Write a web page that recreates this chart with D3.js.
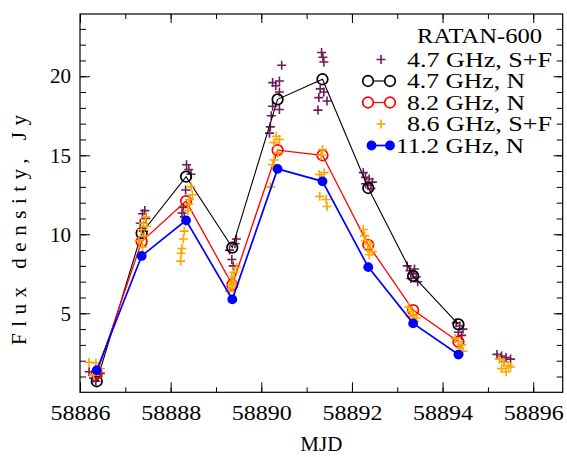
<!DOCTYPE html>
<html>
<head>
<meta charset="utf-8">
<script src="https://cdn.jsdelivr.net/npm/d3@7"></script>
<style>
  body { margin: 0; background: #fff; }
</style>
</head>
<body>
<script>
// N-mode observations (one per day)
const mjdN = [58886.37, 58887.36, 58888.34, 58889.36, 58890.36, 58891.35, 58892.36, 58893.35, 58894.35];
const flux47N = [0.7, 10.07, 13.65, 9.16, 18.54, 19.81, 12.93, 7.37, 4.3];
const flux82N = [1.2, 9.54, 12.1, 6.8, 15.32, 15.0, 9.33, 5.2, 3.2];
const flux112N = [1.4, 8.63, 10.88, 5.88, 14.14, 13.35, 7.92, 4.36, 2.39];

// S+F observations, [mjd, flux]
const sf47 = [
  [58886.2, 1.3], [58886.3, 0.9], [58886.4, 1.0], [58886.45, 1.2], [58886.35, 0.7],
  [58887.43, 11.5], [58887.38, 11.3], [58887.45, 11.0], [58887.33, 10.7], [58887.4, 10.2],
  [58888.35, 14.4], [58888.4, 14.1], [58888.45, 13.8], [58888.33, 12.8], [58888.28, 11.7], [58888.25, 11.35], [58888.3, 11.1],
  [58889.45, 9.7], [58889.42, 9.4], [58889.35, 8.4], [58889.38, 8.0], [58889.3, 9.0],
  [58890.45, 20.7], [58890.25, 19.6], [58890.4, 19.7], [58890.32, 19.4], [58890.4, 19.0], [58890.25, 18.1],
  [58890.4, 17.9], [58890.22, 17.5], [58890.2, 16.8], [58890.18, 16.4],
  [58891.33, 21.5], [58891.36, 21.2], [58891.38, 20.9], [58891.3, 19.2], [58891.38, 19.0], [58891.27, 18.65],
  [58891.45, 18.43], [58891.25, 17.86],
  [58892.25, 13.9], [58892.3, 13.6], [58892.38, 13.5], [58892.45, 13.3], [58892.35, 13.1], [58892.42, 12.9], [58892.3, 13.2],
  [58893.22, 8.0], [58893.28, 7.7], [58893.35, 7.5], [58893.42, 7.3], [58893.3, 7.2], [58893.45, 7.0], [58893.38, 7.8],
  [58894.3, 4.4], [58894.38, 4.2], [58894.45, 4.0], [58894.35, 3.8], [58894.42, 3.6],
  [58895.2, 2.4], [58895.3, 2.3], [58895.4, 2.2], [58895.5, 2.1], [58895.35, 1.9]
];
const sf86 = [
  [58886.2, 1.9], [58886.35, 1.85], [58886.4, 1.3], [58886.3, 1.1], [58886.45, 1.5],
  [58887.45, 11.1], [58887.4, 10.7], [58887.35, 10.3], [58887.42, 9.9], [58887.3, 9.6], [58887.38, 9.2], [58887.47, 10.5],
  [58888.45, 13.0], [58888.42, 12.2], [58888.4, 11.9], [58888.38, 11.5], [58888.34, 10.8], [58888.3, 10.2],
  [58888.28, 9.7], [58888.25, 9.1], [58888.23, 8.8], [58888.22, 8.3], [58888.48, 12.5],
  [58889.45, 7.9], [58889.4, 7.6], [58889.35, 7.3], [58889.38, 7.0], [58889.32, 6.8], [58889.36, 6.6], [58889.3, 6.4], [58889.42, 6.9],
  [58890.33, 16.2], [58890.4, 16.0], [58890.28, 15.8], [58890.37, 15.15], [58890.28, 14.7], [58890.25, 14.4], [58890.33, 14.1], [58890.2, 13.0],
  [58891.35, 15.36], [58891.32, 15.0], [58891.28, 13.78], [58891.39, 13.9], [58891.32, 13.46], [58891.29, 12.4],
  [58891.43, 12.2], [58891.45, 11.76],
  [58892.25, 10.3], [58892.28, 9.9], [58892.3, 9.6], [58892.4, 9.4], [58892.35, 9.1], [58892.45, 8.9], [58892.38, 8.7],
  [58893.25, 5.4], [58893.3, 5.1], [58893.35, 4.9], [58893.42, 4.7], [58893.38, 4.5], [58893.28, 4.8],
  [58894.28, 3.4], [58894.35, 3.2], [58894.42, 3.0], [58894.38, 2.8], [58894.45, 2.6],
  [58895.25, 2.1], [58895.35, 1.9], [58895.45, 1.7], [58895.3, 1.5], [58895.4, 1.3], [58895.5, 1.6]
];

const xTickLabels = [58886, 58888, 58890, 58892, 58894, 58896];
const yTickLabels = [5, 10, 15, 20];
const legendTitle = "RATAN-600";
const legendLabels = ["4.7 GHz, S+F", "4.7 GHz, N", "8.2 GHz, N", "8.6 GHz, S+F", "11.2 GHz, N"];

const width = 567, height = 457;
const margin = { top: 14, right: 4.3, bottom: 64.7, left: 80 };
const purple = "#6e1d58", orange = "#ffa500";
const serif = "Liberation Serif, DejaVu Serif, serif";
const fs = 21;

const svg = d3.select("body").append("svg")
  .attr("width", width).attr("height", height)
  .attr("font-family", serif);

const x = d3.scaleLinear().domain([58886, 58896.65]).range([margin.left, width - margin.right]);
const y = d3.scaleLinear().domain([0, 23.94]).range([height - margin.bottom, margin.top]);

const x0 = margin.left, x1 = width - margin.right, y0 = height - margin.bottom, y1 = margin.top;

// Axes with inward ticks
const xMinor = d3.range(58886, 58897, 1);
const yMinor = d3.range(1, 24, 1);

function axisStyle(g) {
  g.attr("font-family", serif);
  g.select(".domain").remove();
  g.selectAll("line").attr("stroke", "#000").attr("stroke-width", 1);
}

svg.append("g").attr("transform", `translate(0,${y0})`)
  .call(d3.axisBottom(x).tickValues(xMinor).tickSize(-5).tickFormat(""))
  .call(axisStyle);
svg.append("g").attr("transform", `translate(0,${y0})`)
  .call(d3.axisBottom(x).tickValues(xTickLabels).tickSize(-10).tickPadding(12.5).tickFormat(d3.format("d")))
  .call(axisStyle)
  .selectAll("text").attr("font-size", fs).attr("textLength", 60).attr("lengthAdjust", "spacingAndGlyphs");
svg.append("g").attr("transform", `translate(0,${y1})`)
  .call(d3.axisTop(x).tickValues(xMinor).tickSize(-5).tickFormat(""))
  .call(axisStyle);
svg.append("g").attr("transform", `translate(0,${y1})`)
  .call(d3.axisTop(x).tickValues(xTickLabels).tickSize(-9).tickFormat(""))
  .call(axisStyle);

svg.append("g").attr("transform", `translate(${x0},0)`)
  .call(d3.axisLeft(y).tickValues(yMinor).tickSize(-6).tickFormat(""))
  .call(axisStyle);
svg.append("g").attr("transform", `translate(${x0},0)`)
  .call(d3.axisLeft(y).tickValues(yTickLabels).tickSize(-10).tickPadding(9))
  .call(axisStyle)
  .selectAll("text").attr("font-size", fs);
svg.append("g").attr("transform", `translate(${x1},0)`)
  .call(d3.axisRight(y).tickValues(yMinor).tickSize(-6).tickFormat(""))
  .call(axisStyle);
svg.append("g").attr("transform", `translate(${x1},0)`)
  .call(d3.axisRight(y).tickValues(yTickLabels).tickSize(-9).tickFormat(""))
  .call(axisStyle);

// Frame
svg.append("rect")
  .attr("x", x0).attr("y", y1).attr("width", x1 - x0).attr("height", y0 - y1)
  .attr("fill", "none").attr("stroke", "#000").attr("stroke-width", 1.2);

// Axis titles
svg.append("text")
  .attr("transform", `translate(26,230) rotate(-90)`)
  .attr("text-anchor", "middle").attr("font-size", fs)
  .attr("textLength", 230).attr("lengthAdjust", "spacing")
  .text("Flux density, Jy");
svg.append("text")
  .attr("x", (x0 + x1) / 2).attr("y", 451)
  .attr("text-anchor", "middle").attr("font-size", fs)
  .text("MJD");

const plot = svg.append("g");
const crossPath = "M-4.5,0H4.5M0,-4.5V4.5";

function drawCrosses(data, color) {
  plot.append("g").selectAll("path")
    .data(data).enter().append("path")
    .attr("d", crossPath)
    .attr("transform", d => `translate(${x(d[0])},${y(d[1])})`)
    .attr("stroke", color).attr("stroke-width", 1.6).attr("fill", "none");
}

function drawSeries(values, color, lw, filled, r) {
  const pts = mjdN.map((m, i) => [m, values[i]]);
  plot.append("path")
    .datum(pts)
    .attr("d", d3.line().x(d => x(d[0])).y(d => y(d[1])))
    .attr("fill", "none").attr("stroke", color).attr("stroke-width", lw);
  plot.append("g").selectAll("circle")
    .data(pts).enter().append("circle")
    .attr("cx", d => x(d[0])).attr("cy", d => y(d[1])).attr("r", r)
    .attr("fill", filled ? color : "none")
    .attr("stroke", color).attr("stroke-width", filled ? 0 : 1.7);
}

// Draw order follows legend order
drawCrosses(sf47, purple);
drawSeries(flux47N, "#000", 1.1, false, 5.3);
drawSeries(flux82N, "#ff0000", 1.3, false, 5.3);
drawCrosses(sf86, orange);
drawSeries(flux112N, "#0000ff", 1.7, true, 4.9);

// Legend
const lfs = 20;
const leg = svg.append("g");
leg.append("text").attr("x", 542).attr("y", 43).attr("text-anchor", "end")
  .attr("font-size", lfs).attr("textLength", 125).attr("lengthAdjust", "spacingAndGlyphs")
  .text(legendTitle);

const rowY = [59.5, 81, 102.5, 124, 145.5];
const textX = [407, 407, 407, 407, 396];
const textW = [145, 118, 118, 145, 128];
legendLabels.forEach((lab, i) => {
  const cy = rowY[i];
  leg.append("text").attr("x", textX[i]).attr("y", cy + 7)
    .attr("font-size", lfs).attr("textLength", textW[i]).attr("lengthAdjust", "spacingAndGlyphs")
    .text(lab);
  if (i === 0 || i === 3) {
    leg.append("path").attr("d", crossPath)
      .attr("transform", `translate(381,${cy})`)
      .attr("stroke", i === 0 ? purple : orange).attr("stroke-width", 1.6);
  } else {
    const color = i === 1 ? "#000" : i === 2 ? "#ff0000" : "#0000ff";
    const filled = i === 4;
    const xa = filled ? 371.5 : 368, xb = 390;
    leg.append("line").attr("x1", xa).attr("x2", xb).attr("y1", cy).attr("y2", cy)
      .attr("stroke", color).attr("stroke-width", filled ? 1.7 : 1.2);
    [xa, xb].forEach(cx => {
      leg.append("circle").attr("cx", cx).attr("cy", cy).attr("r", filled ? 4.9 : 5.3)
        .attr("fill", filled ? color : "#fff")
        .attr("stroke", color).attr("stroke-width", filled ? 0 : 1.7);
    });
  }
});
</script>
</body>
</html>
